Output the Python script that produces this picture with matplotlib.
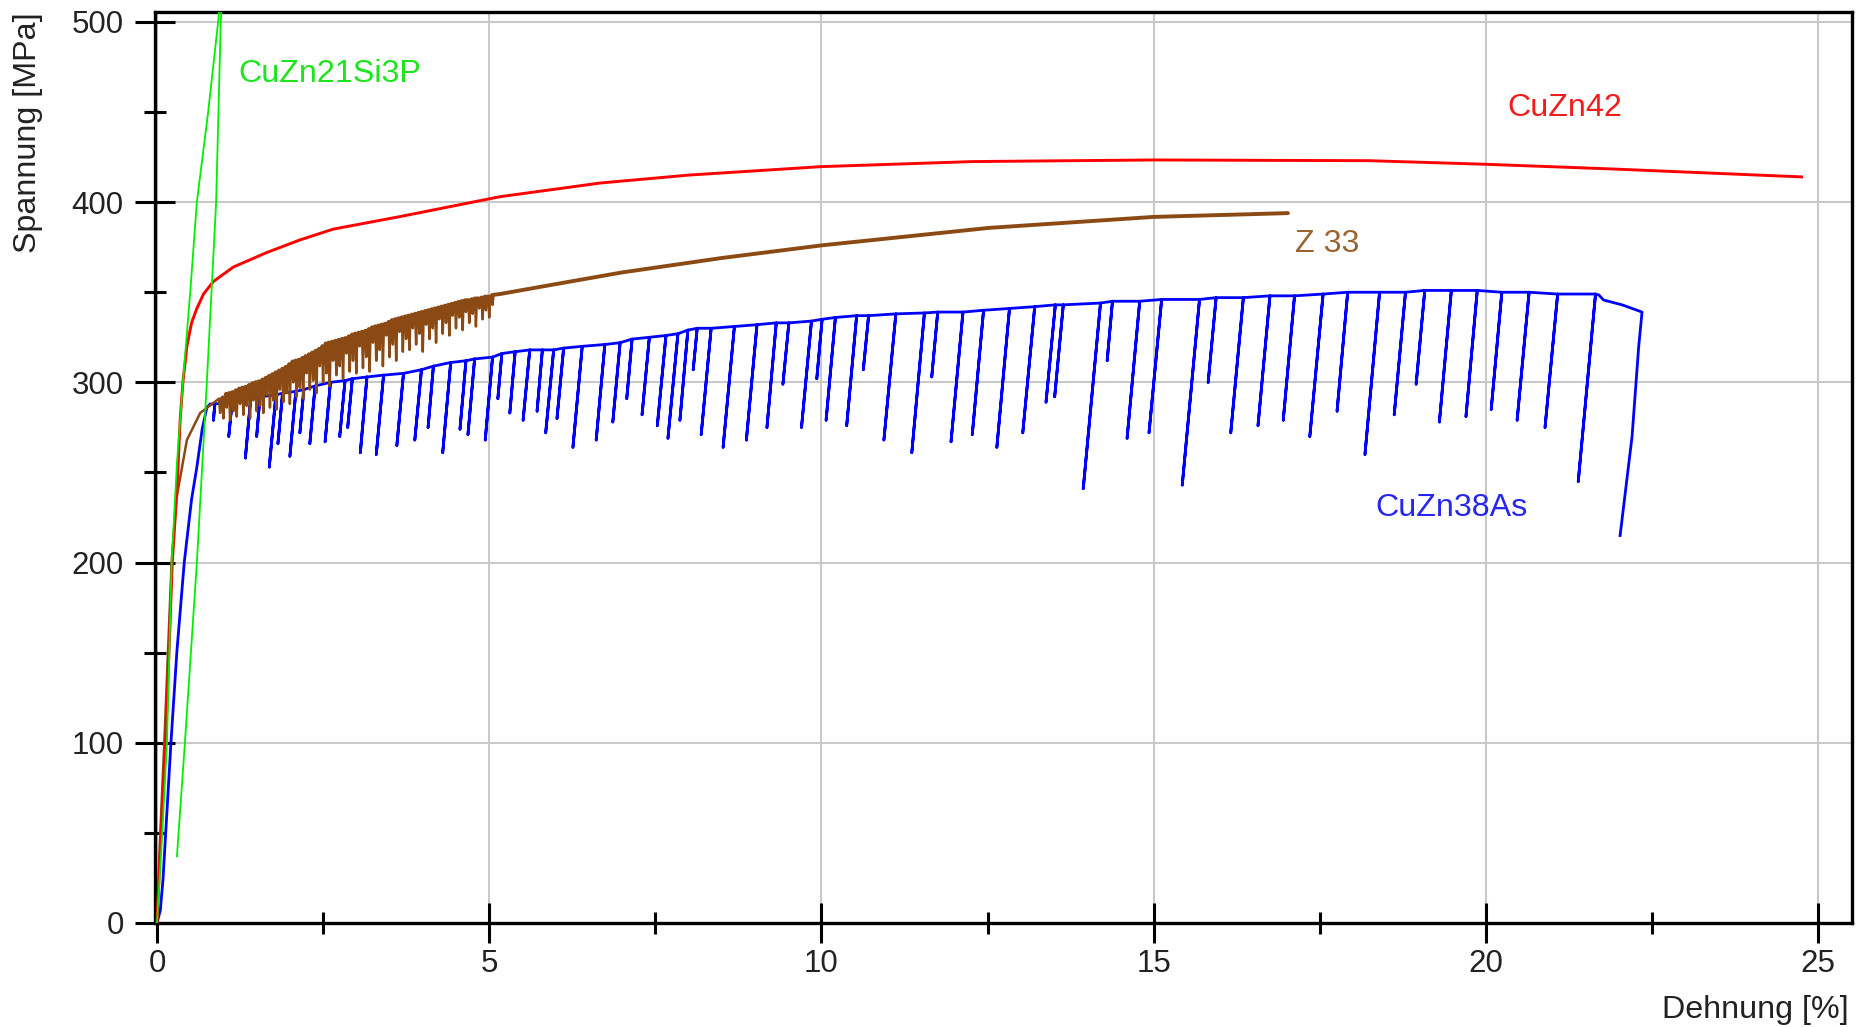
import matplotlib
matplotlib.use("Agg")
import matplotlib.pyplot as plt
from matplotlib.ticker import MultipleLocator

plt.rcParams["font.family"] = ["Liberation Sans", "DejaVu Sans"]

# CuZn21Si3P: loading line and return line
green_x = [0.0, 0.08, 0.15, 0.22, 0.30, 0.39, 0.50, 0.60, 0.77, 0.92, 1.00,
           0.99, 0.96, 0.89, 0.75, 0.60, 0.42, 0.30]
green_y = [0, 50, 100, 200, 255, 300, 350, 400, 450, 500, 530,
           520, 500, 400, 300, 200, 100, 37]

# CuZn42
red_x = [0.0, 0.06, 0.13, 0.18, 0.23, 0.30, 0.35, 0.39, 0.45, 0.52, 0.60, 0.70,
         0.85, 1.15, 1.65, 2.15, 2.65, 3.66, 5.16, 6.67, 8.0, 10.0, 12.27, 15.0,
         18.24, 20.0, 21.9, 24.75]
red_y = [0, 50, 100, 150, 200, 240, 280, 300, 320, 333, 341, 349,
         356, 364, 372, 379, 385, 392, 403, 410.6, 415, 419.7, 422.5, 423.4,
         423, 421, 418.4, 414]

# Z 33: start, serrated part (upper level and dips), smooth part
brown_start_x = [0.0, 0.05, 0.11, 0.22, 0.29, 0.45, 0.65, 0.90]
brown_start_y = [0, 50, 100, 200, 235, 268, 283, 290]
dip_x = [0.95, 1.0, 1.05, 1.1, 1.15, 1.2, 1.25, 1.3, 1.35, 1.4, 1.45, 1.5,
         1.55, 1.6, 1.65, 1.7, 1.75, 1.8, 1.85, 1.9, 1.95, 2.0, 2.05, 2.1,
         2.15, 2.2, 2.25, 2.3, 2.35, 2.4, 2.45, 2.5, 2.55, 2.6, 2.65, 2.7,
         2.75, 2.8, 2.85, 2.9, 2.95, 3.0, 3.05, 3.1, 3.15, 3.2, 3.25, 3.3,
         3.35, 3.4, 3.45, 3.5, 3.55, 3.6, 3.65, 3.7, 3.75, 3.8, 3.85, 3.9,
         3.95, 4.0, 4.05, 4.1, 4.15, 4.2, 4.25, 4.3, 4.35, 4.4, 4.45, 4.5,
         4.55, 4.6, 4.65, 4.7, 4.75, 4.8, 4.85, 4.9, 4.95, 5.0, 5.05]
dip_top = [291, 292, 294, 294.5, 295, 296, 297, 297.5, 298, 299, 300, 300.5,
           301, 302, 303, 304, 305, 306, 307, 308, 309, 310.5, 312, 312.5,
           313, 314, 315, 316, 317, 318, 319, 320.5, 322, 322.5, 323, 323.5,
           324, 324.5, 325, 326, 327, 327.5, 328, 328.5, 329, 330, 331, 331.5,
           332, 332.5, 333, 334, 335, 335.5, 336, 336.5, 337, 337.5, 338, 338.5,
           339, 339.5, 340, 340.5, 341, 341.5, 342, 342.5, 343, 343.5, 344, 344.5,
           345, 345.5, 346, 346, 346.5, 347, 347, 347.5, 348, 348, 348.5]
dip_low = [283, 280, 286, 279, 284, 281, 288, 282, 287, 280, 290, 284,
           287, 283, 293, 286, 290, 285, 296, 289, 294, 288, 300, 292,
           297, 291, 305, 296, 301, 294, 309, 300, 305, 298, 312, 304,
           309, 302, 316, 306, 312, 305, 320, 308, 314, 306, 322, 312,
           318, 309, 326, 314, 321, 312, 328, 317, 324, 318, 330, 321,
           327, 317, 332, 324, 330, 322, 335, 327, 333, 326, 337, 330,
           336, 329, 339, 333, 338, 331, 341, 335, 340, 336, 343]
brown_end_x = [5.05, 5.16, 6.0, 7.0, 8.5, 10.0, 12.52, 15.0, 17.02]
brown_end_y = [348.5, 349, 354.5, 361, 369, 376, 385.7, 391.8, 393.9]

# CuZn38As: initial loading, unload/reload spikes, final part
blue_start_x = [0.0, 0.05, 0.09, 0.21, 0.30, 0.41, 0.52, 0.60, 0.68, 0.75, 0.80]
blue_start_y = [0, 7, 24, 100, 151, 200, 235, 253, 274, 286, 288]
spike_top_x = [0.87, 1.13, 1.41, 1.55, 1.79, 1.89, 2.09, 2.21, 2.38, 2.61, 2.83,
               2.94, 3.16, 3.41, 3.71, 3.98, 4.16, 4.42, 4.65, 4.78, 5.05, 5.19,
               5.39, 5.61, 5.80, 5.97, 6.12, 6.40, 6.74, 6.97, 7.15, 7.41, 7.66,
               7.84, 7.99, 8.13, 8.34, 8.69, 9.03, 9.32, 9.51, 9.85, 10.01, 10.21,
               10.53, 10.71, 11.12, 11.55, 11.75, 12.13, 12.44, 12.83, 13.21, 13.52,
               13.64, 14.20, 14.38, 14.79, 15.12, 15.69, 15.94, 16.35, 16.75, 17.12,
               17.55, 17.92, 18.40, 18.79, 19.08, 19.48, 19.87, 20.24, 20.65, 21.08,
               21.65]
spike_top_y = [288, 289, 291, 292, 293, 294, 295, 296, 298, 300, 301,
               302, 303, 304, 305, 307, 309, 311, 312, 313, 314, 316,
               317, 318, 318, 318, 319, 320, 321, 322, 324, 325, 326,
               327, 329, 330, 330, 331, 332, 333, 333, 334, 335, 336,
               337, 337, 338, 338.5, 339, 339, 340, 341, 342, 343,
               343, 344, 345, 345, 346, 346, 347, 347, 348, 348,
               349, 350, 350, 350, 351, 351, 351, 350, 350, 349,
               349]
spike_bot_x = [0.85, 1.08, 1.33, 1.50, 1.69, 1.82, 2.00, 2.15, 2.30, 2.53, 2.75,
               2.87, 3.06, 3.30, 3.61, 3.88, 4.08, 4.30, 4.56, 4.68, 4.94, 5.13,
               5.31, 5.51, 5.72, 5.85, 6.02, 6.26, 6.61, 6.86, 7.07, 7.30, 7.53,
               7.69, 7.87, 8.07, 8.19, 8.52, 8.87, 9.18, 9.42, 9.70, 9.93, 10.07,
               10.38, 10.63, 10.94, 11.36, 11.66, 11.95, 12.27, 12.64, 13.03, 13.38,
               13.51, 13.94, 14.30, 14.60, 14.93, 15.43, 15.82, 16.16, 16.57, 16.95,
               17.35, 17.76, 18.18, 18.62, 18.95, 19.30, 19.70, 20.08, 20.47, 20.89,
               21.39]
spike_bot_y = [279, 270, 258, 270, 253, 266, 259, 272, 266, 267, 270,
               275, 261, 260, 265, 268, 275, 261, 274, 271, 268, 291,
               283, 279, 284, 272, 280, 264, 268, 278, 291, 282, 276,
               269, 279, 307, 271, 264, 268, 275, 299, 275, 302, 279,
               276, 307, 268, 261, 303, 267, 271, 264, 272, 289,
               292, 241, 312, 269, 272, 243, 300, 272, 276, 279,
               270, 284, 260, 282, 299, 278, 281, 285, 279, 275,
               245]
blue_end_x = [21.70, 21.77, 22.05, 22.35, 22.30, 22.20, 22.02]
blue_end_y = [348.5, 345.7, 343, 339, 320, 270, 215]

labels = ["CuZn21Si3P", "CuZn42", "Z 33", "CuZn38As"]
label_x = [1.22, 20.32, 17.13, 18.33]
label_y = [471, 452, 377, 230]
label_colors = ["#1ee41e", "#f21c1c", "#9a6432", "#2626ee"]

# build polylines
brown_x = list(brown_start_x)
brown_y = list(brown_start_y)
for x, top, low in zip(dip_x, dip_top, dip_low):
    brown_x += [x - 0.015, x, x + 0.015]
    brown_y += [top, low, top]

blue_x = list(blue_start_x)
blue_y = list(blue_start_y)
for tx, ty, bx, by in zip(spike_top_x, spike_top_y, spike_bot_x, spike_bot_y):
    blue_x += [tx, bx, tx]
    blue_y += [ty, by, ty]
blue_x += blue_end_x
blue_y += blue_end_y

fig = plt.figure(figsize=(18.71, 10.27), dpi=100)
ax = fig.add_axes([155 / 1871, 1 - 923 / 1027, 1697 / 1871, 911 / 1027])

ax.plot(blue_x, blue_y, color="#0000ff", lw=2.0, zorder=3)
ax.plot(brown_x, brown_y, color="#8b4a14", lw=1.8, zorder=4)
ax.plot(brown_end_x, brown_end_y, color="#8b4a14", lw=2.8, zorder=4,
        solid_capstyle="round")
ax.plot(red_x, red_y, color="#ff0000", lw=2.1, zorder=5)
ax.plot(green_x, green_y, color="#00f000", lw=1.3, zorder=6)

for t, x, y, c in zip(labels, label_x, label_y, label_colors):
    ax.text(x, y, t, color=c, fontsize=23.2, ha="left", va="center")

ax.set_xlim(-0.03, 25.51)
ax.set_ylim(0, 505.5)
ax.xaxis.set_major_locator(MultipleLocator(5))
ax.xaxis.set_minor_locator(MultipleLocator(2.5))
ax.yaxis.set_major_locator(MultipleLocator(100))
ax.yaxis.set_minor_locator(MultipleLocator(50))
ax.grid(True, which="major", color="#c8c8c8", lw=1.4, zorder=0)
ax.set_axisbelow(True)

for s in ax.spines.values():
    s.set_linewidth(2.4)
ax.tick_params(which="major", direction="inout", length=29, width=2.2,
               labelsize=22.5, labelcolor="#222222")
ax.tick_params(which="minor", direction="inout", length=16, width=2.2)
ax.tick_params(axis="y", which="major", pad=8)
ax.tick_params(axis="x", which="major", pad=4)

fig.text(28 / 1871, 1 - 12 / 1027, "Spannung [MPa]", rotation=90, fontsize=23.2,
         color="#222222", ha="center", va="top")
fig.text(1849 / 1871, 1 - 1010 / 1027, "Dehnung [%]", fontsize=23.2,
         color="#222222", ha="right", va="center")

fig.savefig("out.png", dpi=100)
